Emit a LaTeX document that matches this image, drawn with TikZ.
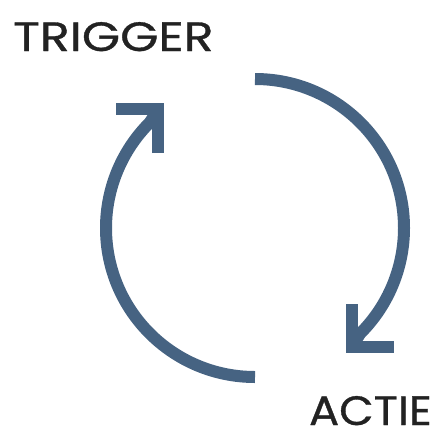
\documentclass[tikz,border=0pt]{standalone}
\usepackage{fontspec}
\setmainfont{Poppins}
\newfontfamily\lblfont[FakeBold=0.8]{Poppins}
\definecolor{cyc}{RGB}{70,99,130}
\definecolor{txt}{RGB}{34,34,34}
\begin{document}
\begin{tikzpicture}[x=1pt,y=-1pt,
  lbl/.style={inner sep=0pt,font=\lblfont\fontsize{41}{41}\selectfont,text=txt},
  ring/.style={draw=cyc,line width=12pt,line cap=butt},
  chev/.style={draw=cyc,line width=12pt,line cap=butt,line join=miter}]
\useasboundingbox (0,0) rectangle (436,429);
\node[lbl,anchor=base west,xscale=1.2] (trig) at (13,51) {TRIGGER};
\node[lbl,anchor=base east,xscale=1.09] (actie) at (432,425) {ACTIE};
\coordinate (c) at (255,228);
% right arc
\draw[ring] (255,79) arc[start angle=-90,end angle=45,radius=149] -- (352,346);
\draw[chev] (352,304) -- (352,347) -- (394,347);
% left arc
\draw[ring] (255,377) arc[start angle=90,end angle=225,radius=149] -- (158,110);
\draw[chev] (158,153) -- (158,109) -- (116,109);
\end{tikzpicture}
\end{document}
